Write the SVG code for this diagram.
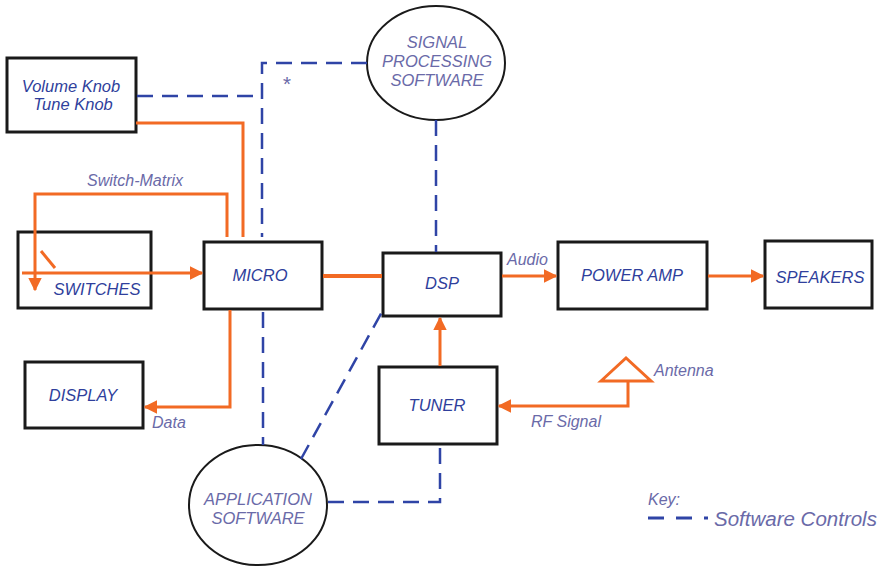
<svg xmlns="http://www.w3.org/2000/svg" width="884" height="566" viewBox="0 0 884 566">
<defs>
<style>
.box{fill:#fff;stroke:#1a1a1a;stroke-width:3}
.ell{fill:#fff;stroke:#1a1a1a;stroke-width:2}
.bt{font-family:"Liberation Sans",Arial,sans-serif;font-style:italic;font-size:16.5px;fill:#2f3f9c;text-anchor:middle}
.et{font-family:"Liberation Sans",Arial,sans-serif;font-style:italic;font-size:16.5px;fill:#6a6aa8;text-anchor:middle}
.lb{font-family:"Liberation Sans",Arial,sans-serif;font-style:italic;font-size:16px;fill:#6a6aa8}
.or{fill:none;stroke:#f26a24;stroke-width:3}
.bl{fill:none;stroke:#2f44a6;stroke-width:2.5;stroke-dasharray:16 9}
</style>
<marker id="ah" viewBox="0 0 10 10" refX="9" refY="5" markerWidth="4.5" markerHeight="4.5" orient="auto" markerUnits="strokeWidth">
<path d="M0,0 L10,5 L0,10 z" fill="#f26a24"/>
</marker>
</defs>
<rect width="884" height="566" fill="#fff"/>
<g id="volume"><rect class="box" x="7" y="58" width="129" height="74"/><text class="bt" x="71" y="92">Volume Knob</text><text class="bt" x="73" y="110">Tune Knob</text></g>
<g id="switches"><rect class="box" x="18" y="232" width="133" height="76"/><text class="bt" x="97" y="295">SWITCHES</text></g>
<g id="micro"><rect class="box" x="204" y="242" width="118" height="67"/><text class="bt" x="260" y="281">MICRO</text></g>
<g id="dsp"><rect class="box" x="383" y="253" width="118" height="63"/><text class="bt" x="442" y="289">DSP</text></g>
<g id="poweramp"><rect class="box" x="558" y="242" width="149" height="67"/><text class="bt" x="632" y="281">POWER AMP</text></g>
<g id="speakers"><rect class="box" x="765" y="241" width="107" height="67"/><text class="bt" x="820" y="283">SPEAKERS</text></g>
<g id="tuner"><rect class="box" x="379" y="367" width="118" height="77"/><text class="bt" x="437" y="411">TUNER</text></g>
<g id="display"><rect class="box" x="25" y="362" width="118" height="66"/><text class="bt" x="83" y="401">DISPLAY</text></g>
<g id="sigsw"><ellipse class="ell" cx="436" cy="63" rx="69" ry="57"/><text class="et" x="437" y="48">SIGNAL</text><text class="et" x="437" y="67">PROCESSING</text><text class="et" x="437" y="86">SOFTWARE</text></g>
<g id="appsw"><ellipse class="ell" cx="258" cy="505" rx="69" ry="60"/><text class="et" x="258" y="505">APPLICATION</text><text class="et" x="258" y="524">SOFTWARE</text></g>
<g id="connectors">
<path class="or" d="M136,123 H243 V237"/>
<path class="or" d="M227,237 V194 H35 V290" marker-end="url(#ah)"/>
<path class="or" d="M22,273 H202" marker-end="url(#ah)"/>
<path class="or" d="M41,251 L55,268"/>
<path class="or" style="stroke-width:4" d="M323,276 H382"/>
<path class="or" d="M502,276 H556" marker-end="url(#ah)"/>
<path class="or" d="M708,276 H763" marker-end="url(#ah)"/>
<path class="or" d="M440,366 V318" marker-end="url(#ah)"/>
<path class="or" d="M628,381 V406 H499" marker-end="url(#ah)"/>
<path class="or" d="M601,381 L626,358 L651,381 Z"/>
<path class="or" d="M230,310 V407 H145" marker-end="url(#ah)"/>
<path class="bl" d="M137,96 H262"/>
<path class="bl" d="M367,63 H262 V237"/>
<path class="bl" d="M436,120 V252"/>
<path class="bl" d="M263,312 V445"/>
<path class="bl" d="M301,459 L383,310"/>
<path class="bl" d="M328,502 H440 V445"/>
<path fill="none" stroke="#2f44a6" stroke-width="3" d="M648,518 H664 M676,518 H692 M704,518 H708"/>
</g>
<g id="labels">
<text class="lb" x="87" y="186">Switch-Matrix</text>
<text class="lb" x="507" y="265">Audio</text>
<text class="lb" x="654" y="376">Antenna</text>
<text class="lb" x="531" y="427">RF Signal</text>
<text class="lb" x="152" y="428">Data</text>
<text class="lb" x="282" y="91" style="font-size:21px">*</text>
<text class="lb" x="648" y="505">Key:</text>
<text class="lb" x="714" y="526" style="font-size:20.5px">Software Controls</text>
</g>
</svg>
